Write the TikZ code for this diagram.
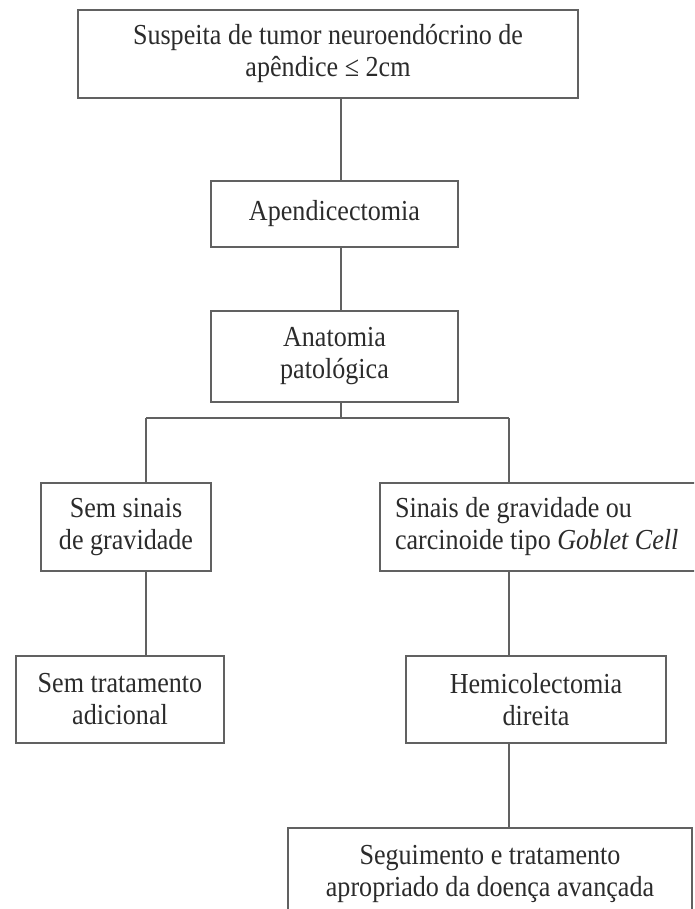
\documentclass[tikz,border=0pt]{standalone}
\usepackage{fontspec}
\setmainfont{Liberation Serif}[FakeStretch=0.9]
\usetikzlibrary{calc}
\definecolor{linha}{gray}{0.38}
\definecolor{texto}{gray}{0.17}
\tikzset{
	caixa/.style={draw=linha, line width=1.8pt, text=texto, align=center, inner sep=0pt, font=\fontsize{29}{32}\selectfont},
	ligacao/.style={draw=linha, line width=1.8pt},
}

\begin{document}
\begin{tikzpicture}[x=1pt, y=-1pt]
		%%%%% START %%%%%
		\useasboundingbox (0, 0) rectangle (694, 909);
		\clip (0, 0) rectangle (694, 909);
		
		\node[caixa, minimum width=500, minimum height=88] (suspeita) at (328, 54) {Suspeita de tumor neuroendócrino de\\apêndice ≤ 2cm};
		\node[caixa, minimum width=247, minimum height=66] (apendic) at (334.5, 214) {Apendicectomia};
		\node[caixa, minimum width=247, minimum height=91] (anatomia) at (334.5, 356.5) {Anatomia\\patológica};
		
		\node[caixa, minimum width=170, minimum height=88] (semsinais) at (126, 527) {Sem sinais\\de gravidade};
		\node[caixa, align=flush left, text width=290, inner xsep=15, minimum height=88] (sinais) at (540, 527) {Sinais de gravidade ou\\carcinoide tipo \textit{Goblet Cell}};
		
		\node[caixa, minimum width=208, minimum height=87] (semtrat) at (120, 699.5) {Sem tratamento\\adicional};
		\node[caixa, minimum width=260, minimum height=87] (hemicol) at (536, 699.5) {Hemicolectomia\\direita};
		\node[caixa, minimum width=404, minimum height=92] (seguimento) at (490, 874) {Seguimento e tratamento\\apropriado da doença avançada};
		
		% ligacoes
		\coordinate (eixo) at (341, 0);
		\coordinate (esq) at (146, 418);
		\coordinate (dir) at (509, 418);
		
		\draw[ligacao] (eixo |- suspeita.south) -- (eixo |- apendic.north);
		\draw[ligacao] (eixo |- apendic.south) -- (eixo |- anatomia.north);
		\draw[ligacao] (eixo |- anatomia.south) -- (eixo |- esq);
		\draw[ligacao] (esq) -- (dir);
		
		\draw[ligacao] (esq) -- (esq |- semsinais.north);
		\draw[ligacao] (dir) -- (dir |- sinais.north);
		\draw[ligacao] (esq |- semsinais.south) -- (esq |- semtrat.north);
		\draw[ligacao] (dir |- sinais.south) -- (dir |- hemicol.north);
		\draw[ligacao] (dir |- hemicol.south) -- (dir |- seguimento.north);
		
		%%%%% END %%%%%
\end{tikzpicture}
\end{document}
